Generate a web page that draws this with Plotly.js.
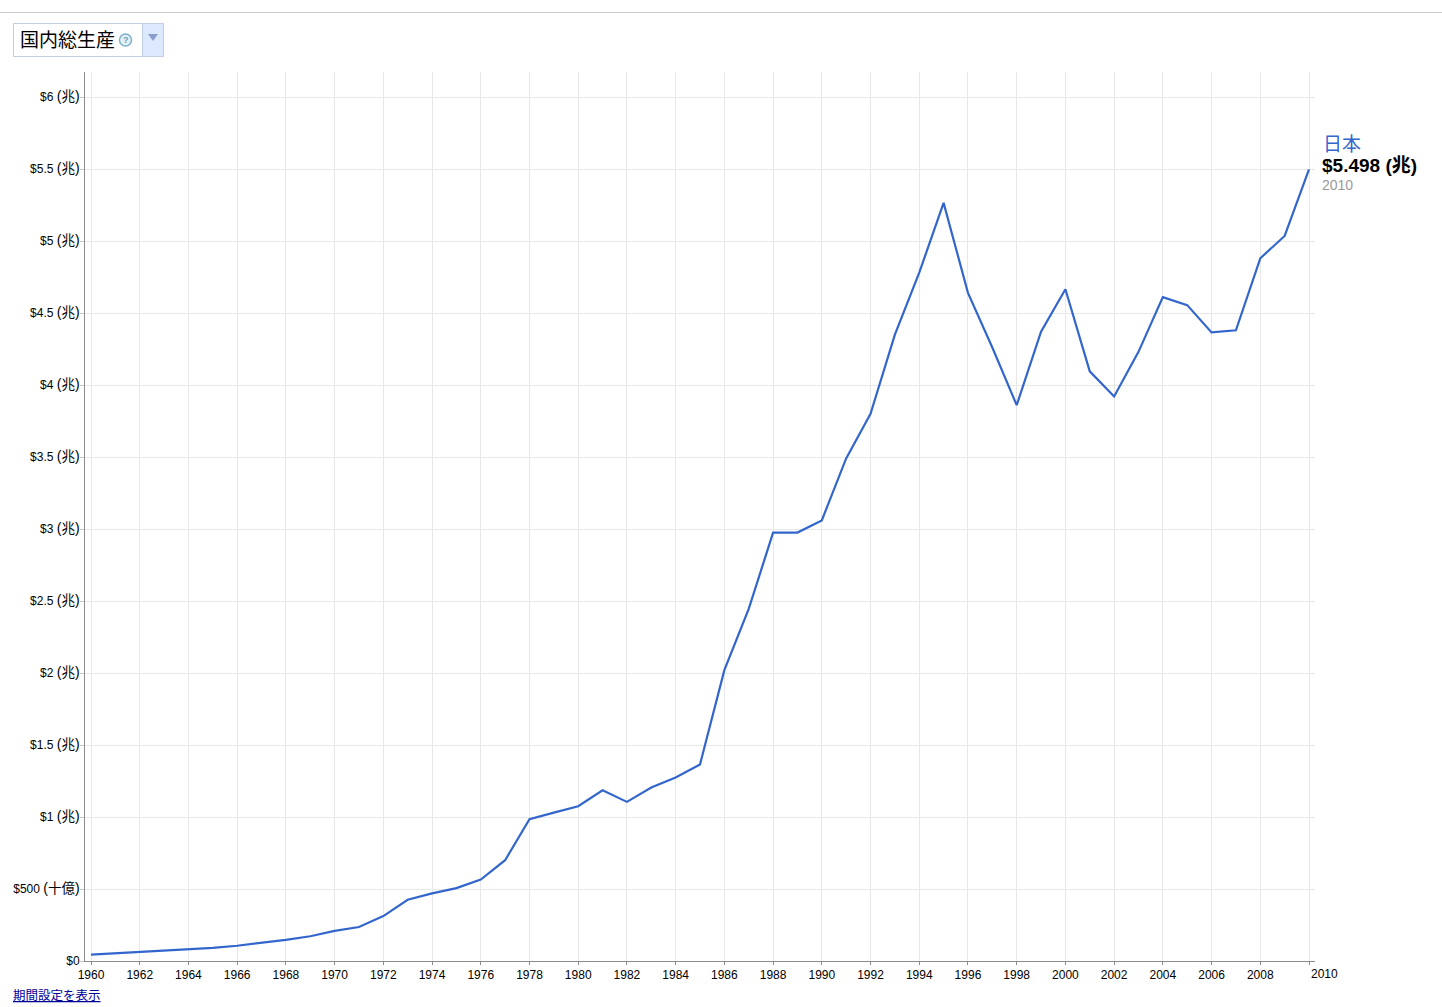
<!DOCTYPE html>
<html><head><meta charset="utf-8">
<script src="https://cdn.plot.ly/plotly-3.0.1.min.js"></script>
<style>html,body{margin:0;padding:0;background:#fff;overflow:hidden}</style>
</head><body><div id="chart" style="width:1442px;height:1007px"></div>
<script>
const years = [1960,1961,1962,1963,1964,1965,1966,1967,1968,1969,1970,1971,1972,1973,1974,1975,1976,1977,1978,1979,1980,1981,1982,1983,1984,1985,1986,1987,1988,1989,1990,1991,1992,1993,1994,1995,1996,1997,1998,1999,2000,2001,2002,2003,2004,2005,2006,2007,2008,2009,2010];
const gdpTrillions = [0.044,0.053,0.060,0.068,0.081,0.091,0.106,0.124,0.147,0.172,0.209,0.236,0.312,0.425,0.470,0.506,0.566,0.700,0.985,1.030,1.075,1.185,1.105,1.205,1.275,1.365,2.020,2.445,2.975,2.975,3.060,3.490,3.800,4.350,4.780,5.265,4.640,4.260,3.860,4.370,4.665,4.095,3.920,4.230,4.610,4.555,4.365,4.380,4.880,5.035,5.498];
const yTickVals = [0,0.5,1,1.5,2,2.5,3,3.5,4,4.5,5,5.5,6];
const yTickText = ['$0','$500 (十億)','$1 (兆)','$1.5 (兆)','$2 (兆)','$2.5 (兆)','$3 (兆)','$3.5 (兆)','$4 (兆)','$4.5 (兆)','$5 (兆)','$5.5 (兆)','$6 (兆)'];
const xTickVals = [1960,1962,1964,1966,1968,1970,1972,1974,1976,1978,1980,1982,1984,1986,1988,1990,1992,1994,1996,1998,2000,2002,2004,2006,2008,2010];
const xTickText = xTickVals.map(v => v === 2010 ? '' : String(v));
const metricTitle = '国内総生産';
const seriesName = '日本';
const lastValue = '$5.498 (兆)';
const lastYear = '2010';
const linkText = '期間設定を表示';

const W = 1442, H = 1007;
const L = 85, T = 72, PW = 1230, PH = 889;
const pxPerYear = 24.36, pxPerUnit = 144;
const FONT = '"Liberation Sans","Noto Sans CJK JP",sans-serif';
const px = x => (x - L) / PW;
const py = y => 1 - (y - T) / PH;
const widenCjk = s => s.replace(/\(([^)]+)\)/, '<span style="font-size:14px">(</span><span style="font-size:13.5px">$1</span><span style="font-size:14px">)</span>');

const rect = (x0,y0,x1,y1,fill,line) => ({type:'rect',xref:'paper',yref:'paper',x0:px(x0),x1:px(x1),y0:py(y0),y1:py(y1),fillcolor:fill,line:{color:line,width:1},layer:'above'});
const shapes = [
  {type:'line',xref:'paper',yref:'paper',x0:px(0),x1:px(W),y0:py(12.5),y1:py(12.5),line:{color:'#cccccc',width:1}},
  rect(13.5,23.5,142.5,56.5,'#ffffff','#c3cfe0'),
  rect(142.5,23.5,163.5,56.5,'#dce8fc','#c3cfe0'),
  {type:'path',xref:'paper',yref:'paper',path:`M ${px(148)} ${py(34)} L ${px(158)} ${py(34)} L ${px(153)} ${py(41)} Z`,fillcolor:'#8c9ccf',line:{width:0}},
  {type:'circle',xref:'paper',yref:'paper',x0:px(119.5),x1:px(131.5),y0:py(34),y1:py(46),fillcolor:'#e4f0f6',line:{color:'#7fb0c8',width:1.5}}
];
const ann = (x,y,text,size,color,anchor) => ({xref:'paper',yref:'paper',x:px(x),y:py(y),text,showarrow:false,xanchor:anchor||'left',yanchor:'middle',font:{family:FONT,size,color},borderpad:0,borderwidth:0});
const annotations = [
  ann(20,41,metricTitle,19,'#000000'),
  ann(125.5,40,'<b>?</b>',9,'#6a9fb8','center'),
  ann(1324.5,974,'2010',12,'#000000','center'),
  ann(1323,144,seriesName,19,'#3366cc'),
  ann(1322,166,'<b>'+lastValue+'</b>',19,'#000000'),
  ann(1322,185,lastYear,14,'#999999'),
  ann(13,995.5,'<u>'+linkText+'</u>',12.5,'#000099')
];
const axisFont = {family:FONT,size:12,color:'#000000'};
Plotly.newPlot('chart',[{
  x:years,y:gdpTrillions,type:'scatter',mode:'lines',name:seriesName,
  line:{color:'#3366cc',width:2.2,shape:'linear'},hoverinfo:'x+y',cliponaxis:false
}],{
  width:W,height:H,autosize:false,showlegend:false,
  paper_bgcolor:'#ffffff',plot_bgcolor:'#ffffff',
  margin:{l:L,r:W-L-PW,t:T,b:H-T-PH,pad:0},
  xaxis:{range:[1960-6/pxPerYear,1960-6/pxPerYear+PW/pxPerYear],tickmode:'array',tickvals:xTickVals,ticktext:xTickText,
    tickangle:0,showgrid:true,gridcolor:'#e8e8e8',gridwidth:1,zeroline:false,showline:true,linecolor:'#8c8c8c',linewidth:1,
    ticks:'outside',ticklen:3,tickcolor:'#8c8c8c',tickfont:axisFont},
  yaxis:{range:[0,PH/pxPerUnit],tickmode:'array',tickvals:yTickVals,ticktext:yTickText.map(widenCjk),
    showgrid:true,gridcolor:'#e8e8e8',gridwidth:1,zeroline:false,showline:true,linecolor:'#8c8c8c',linewidth:1,
    ticks:'outside',ticklen:4,tickcolor:'#c8c8c8',tickfont:axisFont,ticklabelstandoff:-2},
  shapes,annotations
},{displayModeBar:false,staticPlot:true});
</script></body></html>
